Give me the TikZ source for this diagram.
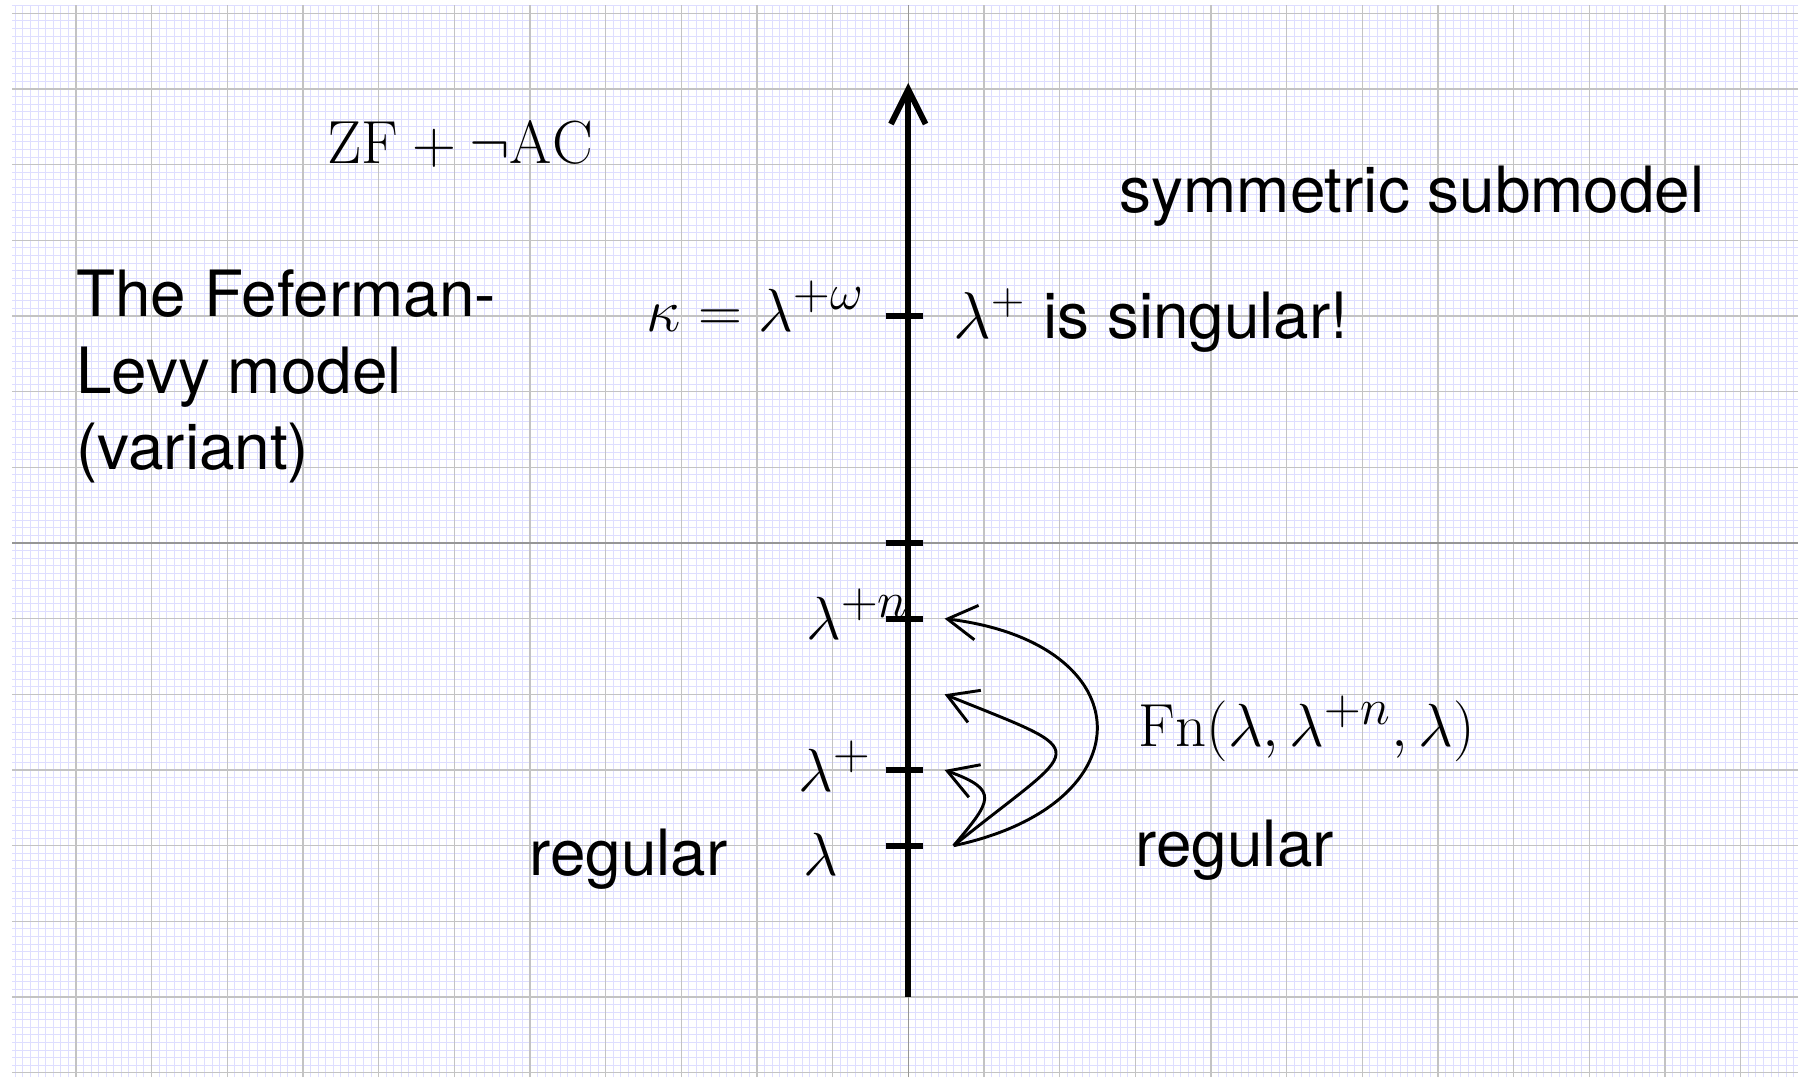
\documentclass[tikz,border=0pt]{standalone}
\usepackage{fontspec}
\setsansfont{TeX Gyre Heros}
\usetikzlibrary{arrows.meta}
\definecolor{minorgrid}{RGB}{222,222,255}
\definecolor{majorgrid}{RGB}{195,195,195}
\definecolor{axisgray}{RGB}{150,150,150}
\tikzset{
  lbl/.style={inner sep=0pt, scale=0.92, transform shape, font=\fontsize{24.88}{30}\selectfont},
  sanslbl/.style={inner sep=0pt, font=\fontsize{24}{28.8}\selectfont\sffamily},
  mainaxis/.style={line width=2.2pt, -{Straight Barb[length=13pt,width=13pt]}},
  tickmark/.style={line width=2.2pt},
  fnarrow/.style={line width=1.1pt, -{Straight Barb[length=11pt,width=13pt]}},
}
\begin{document}
\begin{tikzpicture}
\useasboundingbox (-12.003,-7.057) rectangle (11.758,7.176);
\draw[minorgrid, line width=0.35pt, step=0.1] (-11.84,-7.057) grid (11.758,7.11);
\draw[majorgrid, line width=0.5pt, step=1] (-11.84,-7.057) grid (11.758,7.11);
\draw[axisgray, line width=0.5pt] (-11.84,0) -- (11.758,0);
\draw[axisgray, line width=0.5pt] (0,-7.057) -- (0,7.11);

\coordinate (abot) at (0,-6);
\coordinate (atop) at (0,6.08);
\draw[mainaxis] (abot) -- (atop);
\foreach \y in {3,0,-1,-3,-4} {\draw[tickmark] (-0.3,\y) -- (0.2,\y);}

\node[lbl, anchor=base west] (zf) at (-7.68,5.02) {$\mathrm{ZF}+\neg\mathrm{AC}$};
\node[sanslbl, anchor=base west] (sym) at (2.79,4.37) {symmetric submodel};
\node[sanslbl, anchor=base west, align=left] (fl) at (-11.0,0.97) {The Feferman-\\Levy model\\(variant)};
\node[lbl, anchor=base west] (kappa) at (-3.46,2.79) {$\kappa=\lambda^{+\omega}$};
\node[sanslbl, anchor=base west] (sing) at (0.59,2.70) {$\lambda^+$ is singular!};
\node[lbl, anchor=base west] (lpn) at (-1.35,-1.28) {$\lambda^{+n}$};
\node[lbl, anchor=base west] (lp) at (-1.454,-3.29) {$\lambda^{+}$};
\node[lbl, anchor=base west] (l) at (-1.39,-4.39) {$\lambda$};
\node[sanslbl, anchor=base west] (regl) at (-5.01,-4.39) {regular};
\node[lbl, anchor=base west] (fn) at (3.04,-2.69) {$\mathrm{Fn}(\lambda,\lambda^{+n},\lambda)$};
\node[sanslbl, anchor=base west] (regr) at (3.0,-4.28) {regular};

\coordinate (src) at (0.6,-4);
\coordinate (e1) at (0.48,-3);
\coordinate (e2) at (0.48,-2);
\coordinate (e3) at (0.48,-1);
\draw[fnarrow] (src) .. controls +(50:0.78) and +(-20:0.78) .. (e1);
\draw[fnarrow] (src) .. controls +(39:2.2) and +(-22:2.2) .. (e2);
\draw[fnarrow] (src) .. controls +(12:2.64) and +(-7:2.64) .. (e3);
\end{tikzpicture}
\end{document}
